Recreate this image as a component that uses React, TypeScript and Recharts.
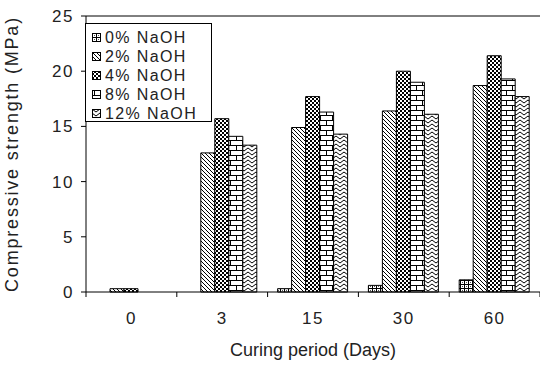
import { BarChart, Bar, XAxis, YAxis, Legend, ReferenceLine, Label } from 'recharts';

const curingDays = ['0', '3', '15', '30', '60'];
const naoh0 = [0, 0, 0.3, 0.6, 1.1];
const naoh2 = [0.3, 12.6, 14.9, 16.4, 18.7];
const naoh4 = [0.3, 15.7, 17.7, 20.0, 21.4];
const naoh8 = [0, 14.1, 16.3, 19.0, 19.3];
const naoh12 = [0, 13.3, 14.3, 16.1, 17.7];
const yTicks = [0, 5, 10, 15, 20, 25];

const seriesNames = ['0% NaOH', '2% NaOH', '4% NaOH', '8% NaOH', '12% NaOH'];
const seriesKeys = ['n0', 'n2', 'n4', 'n8', 'n12'];
const patternIds = ['pat0', 'pat2', 'pat4', 'pat8', 'pat12'];

const data = curingDays.map((day, i) => ({
  day,
  n0: naoh0[i],
  n2: naoh2[i],
  n4: naoh4[i],
  n8: naoh8[i],
  n12: naoh12[i],
}));

const FONT = "'Liberation Sans', Arial, sans-serif";
const TEXT = '#222';
const BAND = 454 / curingDays.length;

const DayTick = (props: any) => {
  const { x, y, payload, index } = props;
  const axisY = y - 20;
  return (
    <g>
      <line x1={x - BAND / 2} x2={x - BAND / 2} y1={axisY} y2={axisY + 5} stroke="#000" />
      {index === curingDays.length - 1 && (
        <line x1={x + BAND / 2} x2={x + BAND / 2} y1={axisY} y2={axisY + 5} stroke="#000" />
      )}
      <text x={x} y={y} dy="0.71em" textAnchor="middle" fill={TEXT} fontSize={17} fontFamily={FONT} letterSpacing={1.5}>
        {payload.value}
      </text>
    </g>
  );
};

const LegendBox = () => (
  <div
    style={{
      border: '1px solid #000',
      background: '#fff',
      width: 127,
      height: 99,
      boxSizing: 'border-box',
      padding: '4px 0 0 6px',
      fontFamily: FONT,
      fontSize: 16,
      letterSpacing: 1.4,
      color: TEXT,
      lineHeight: '19px',
    }}
  >
    {seriesNames.map((name, i) => (
      <div key={name} style={{ display: 'flex', alignItems: 'center', height: 19 }}>
        <svg width={10} height={10} style={{ marginRight: 3 }}>
          <rect x={0.5} y={0.5} width={8} height={8} fill={`url(#${patternIds[i]})`} stroke="#000" />
        </svg>
        <span>{name}</span>
      </div>
    ))}
  </div>
);

export default function App() {
  return (
    <div style={{ position: 'absolute', left: 0, top: 0, background: '#fff' }}>
      <BarChart
        width={540}
        height={367}
        data={data}
        margin={{ top: 16, right: 0, left: 0, bottom: 0 }}
        barCategoryGap={10}
        barGap={0}
      >
        <defs>
          <pattern id="pat0" patternUnits="userSpaceOnUse" width={4} height={4}>
            <rect width={4} height={4} fill="#fff" />
            <rect x={0} y={0} width={4} height={1} fill="#000" />
            <rect x={0} y={0} width={1} height={4} fill="#000" />
            <rect x={2} y={2} width={1} height={1} fill="#555" />
          </pattern>
          <pattern id="pat2" patternUnits="userSpaceOnUse" width={4} height={4}>
            <rect width={4} height={4} fill="#fff" />
            <path d="M-1,-1 L5,5 M-1,3 L1,5 M3,-1 L5,1" stroke="#000" strokeWidth={1} />
          </pattern>
          <pattern id="pat4" patternUnits="userSpaceOnUse" width={4} height={4}>
            <rect width={4} height={4} fill="#000" />
            <rect x={0} y={0} width={2} height={2} fill="#fff" />
            <rect x={2} y={2} width={2} height={2} fill="#fff" />
          </pattern>
          <pattern id="pat8" patternUnits="userSpaceOnUse" width={12} height={10}>
            <rect width={12} height={10} fill="#fff" />
            <rect x={0} y={0} width={12} height={1} fill="#000" />
            <rect x={0} y={5} width={12} height={1} fill="#000" />
            <rect x={2} y={0} width={1} height={5} fill="#000" />
            <rect x={8} y={5} width={1} height={5} fill="#000" />
          </pattern>
          <pattern id="pat12" patternUnits="userSpaceOnUse" width={8} height={4}>
            <rect width={8} height={4} fill="#fff" />
            <path d="M0,0 L4,3 L8,0 M0,4 L4,7 L8,4 M0,-4 L4,-1 L8,-4" stroke="#000" strokeWidth={1} fill="none" />
          </pattern>
        </defs>
        <XAxis
          dataKey="day"
          stroke="#000"
          tickLine={false}
          tickSize={0}
          tickMargin={20}
          height={75}
          tick={<DayTick />}
          interval={0}
        >
          <Label
            value="Curing period (Days)"
            position="insideBottom"
            offset={11}
            fill={TEXT}
            fontSize={18}
            fontFamily={FONT}
          />
        </XAxis>
        <YAxis
          domain={[0, 25]}
          ticks={yTicks}
          width={86}
          stroke="#000"
          tickSize={5}
          tickMargin={7}
          tick={{ fill: TEXT, fontSize: 17, fontFamily: FONT, letterSpacing: 1.5 }}
        >
          <Label
            value="Compressive strength (MPa)"
            angle={-90}
            position="insideLeft"
            offset={12}
            style={{ textAnchor: 'middle', letterSpacing: 1.8 }}
            fill={TEXT}
            fontSize={18}
            fontFamily={FONT}
          />
        </YAxis>
        <ReferenceLine y={25} stroke="#000" />
        <Legend
          layout="vertical"
          align="center"
          verticalAlign="middle"
          content={<LegendBox />}
          wrapperStyle={{ left: 85, top: 23, width: 127, height: 99 }}
        />
        {seriesKeys.map((key, i) => (
          <Bar
            key={key}
            dataKey={key}
            name={seriesNames[i]}
            fill={`url(#${patternIds[i]})`}
            stroke="#000"
            strokeWidth={1}
            isAnimationActive={false}
          />
        ))}
      </BarChart>
    </div>
  );
}
